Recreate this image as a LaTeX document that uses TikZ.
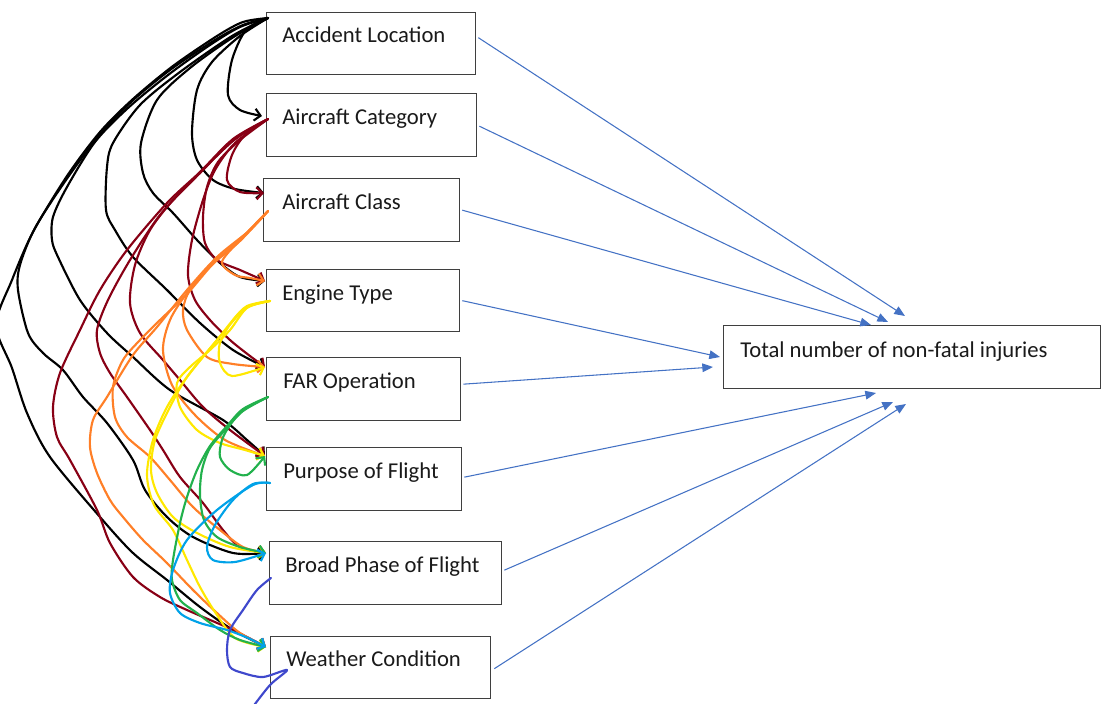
\documentclass[tikz,border=0pt]{standalone}
\usepackage{fontspec}
\setmainfont{Carlito}
\usetikzlibrary{arrows.meta}
\definecolor{bxline}{HTML}{3F3F3F}
\definecolor{txt}{HTML}{1A1A1A}
\definecolor{arrblue}{HTML}{4472C4}
\definecolor{cmaroon}{HTML}{880015}
\definecolor{corange}{HTML}{FF7F27}
\definecolor{cyellow}{HTML}{FFE800}
\definecolor{cgreen}{HTML}{22B14C}
\definecolor{ccyan}{HTML}{00A2E8}
\definecolor{cindigo}{HTML}{3F48CC}
\tikzset{
  box/.style={draw=bxline, line width=1pt, fill=white, inner sep=0pt, anchor=north west},
  lbl/.style={text=txt, inner sep=0pt, anchor=base west, font=\fontsize{17}{20}\selectfont},
  arr/.style={draw=arrblue, line width=0.8pt, -{Triangle[length=8pt,width=6.5pt]}},
  hand/.style={line width=1.6pt, line cap=round, line join=round},
  handarr/.style={hand, -{Straight Barb[length=4.5pt,width=9pt]}},
}
\begin{document}
\begin{tikzpicture}[x=0.75pt,y=-0.75pt]
\useasboundingbox (0,0) rectangle (1101,704);
\clip (0,0) rectangle (1101,704);
% boxes
\node[box, minimum width=156.75pt, minimum height=46.5pt] (a1) at (266,12) {};
\node[box, minimum width=157.5pt, minimum height=47.25pt] (a2) at (266,93) {};
\node[box, minimum width=147pt, minimum height=47.25pt] (a3) at (263,178) {};
\node[box, minimum width=144.75pt, minimum height=46.5pt] (a4) at (266,269) {};
\node[box, minimum width=145.5pt, minimum height=47.25pt] (a5) at (266,357) {};
\node[box, minimum width=146.25pt, minimum height=47.25pt] (a6) at (266,447) {};
\node[box, minimum width=174pt, minimum height=47.25pt] (a7) at (269,541) {};
\node[box, minimum width=165pt, minimum height=46.5pt] (a8) at (270,636) {};
\node[box, minimum width=283pt, minimum height=47.25pt] (tot) at (723,325) {};
% labels
\node[lbl] (t1) at (282,42) {Accident Location};
\node[lbl] (t2) at (282,124) {Aircraft Category};
\node[lbl] (t3) at (282,209) {Aircraft Class};
\node[lbl] (t4) at (282,300) {Engine Type};
\node[lbl] (t5) at (283,388) {FAR Operation};
\node[lbl] (t6) at (283,478) {Purpose of Flight};
\node[lbl] (t7) at (285,572) {Broad Phase of Flight};
\node[lbl] (t8) at (286,666) {Weather Condition};
\node[lbl] (t9) at (740,357) {Total number of non-fatal injuries};
% blue arrow ends
\coordinate (e1) at (905,316);
\coordinate (e2) at (888,322);
\coordinate (e3) at (871,325);
\coordinate (e4) at (720,357);
\coordinate (e5) at (713,367);
\coordinate (e6) at (876,393);
\coordinate (e7) at (893,402);
\coordinate (e8) at (906,404);
\draw[arr] ([shift={(2,-6)}]a1.east) -- (e1);
\draw[arr] ([shift={(2,1)}]a2.east) -- (e2);
\draw[arr] ([shift={(2,0)}]a3.east) -- (e3);
\draw[arr] ([shift={(2,0)}]a4.east) -- (e4);
\draw[arr] ([shift={(2,-5)}]a5.east) -- (e5);
\draw[arr] ([shift={(2,-2)}]a6.east) -- (e6);
\draw[arr] ([shift={(2,-3)}]a7.east) -- (e7);
\draw[arr] ([shift={(3,1)}]a8.east) -- (e8);
% hand-drawn sources and destinations
\coordinate (s1) at (268,18);
\coordinate (s2) at (268,119);
\coordinate (s3) at (268,211);
\coordinate (s4) at (270,301);
\coordinate (s5) at (268,397);
\coordinate (s6) at (270,483);
\coordinate (s7) at (271,578);
\coordinate (dCat) at (262,116);
\coordinate (dCls) at (264,193);
\coordinate (dEng) at (265,281);
\coordinate (dFAR) at (265,367);
\coordinate (dPur) at (265,456);
\coordinate (dBro) at (266,553);
\coordinate (dWea) at (266,647);
\coordinate (p7) at (252,708);
% black
\begin{scope}[draw=black]
\draw[handarr] plot[smooth] coordinates {(s1) (246,30) (232,60) (228,95) (240,110) (dCat)};
\draw[handarr] plot[smooth] coordinates {(s1) (240,36) (212,62) (197,90) (192,133) (197,160) (213,180) (235,189) (dCls)};
\draw[handarr] plot[smooth] coordinates {(s1) (232,38) (190,68) (157,100) (141,143) (143,173) (153,193) (173,213) (197,240) (220,263) (240,277) (dEng)};
\draw[handarr] plot[smooth] coordinates {(s1) (232,36) (180,72) (140,105) (113,143) (107,167) (106,210) (115,230) (133,257) (167,290) (200,323) (233,350) (dFAR)};
\draw[handarr] plot[smooth] coordinates {(s1) (240,27) (210,45) (168,75) (128,108) (95,142) (67,187) (53,217) (52,240) (58,257) (80,300) (107,333) (133,357) (170,390) (223,420) (247,440) (dPur)};
\draw[handarr] plot[smooth] coordinates {(s1) (243,25) (215,40) (170,70) (130,103) (98,137) (66,180) (35,228) (20,265) (18,290) (28,333) (43,353) (63,370) (83,397) (107,423) (133,460) (145,490) (167,517) (193,537) (233,553) (dBro)};
\draw[handarr] plot[smooth] coordinates {(s1) (243,22) (217,36) (173,66) (133,99) (100,132) (67,176) (33,232) (12,280) (-4,325) (12,368) (27,413) (50,457) (100,517) (133,553) (167,580) (200,607) (233,630) (dWea)};
\end{scope}
% maroon
\begin{scope}[draw=cmaroon]
\draw[handarr] plot[smooth] coordinates {(s2) (245,135) (232,155) (227,180) (240,192) (dCls)};
\draw[handarr] plot[smooth] coordinates {(s2) (240,140) (218,162) (207,187) (203,217) (205,243) (217,260) (240,270) (dEng)};
\draw[handarr] plot[smooth] coordinates {(s2) (235,143) (215,170) (203,200) (192,240) (188,275) (195,300) (210,320) (230,340) (250,356) (dFAR)};
\draw[handarr] plot[smooth] coordinates {(s2) (233,140) (200,173) (173,200) (150,230) (135,265) (130,303) (140,333) (163,360) (180,380) (203,407) (230,430) (dPur)};
\draw[handarr] plot[smooth] coordinates {(s2) (233,141) (195,178) (160,215) (130,260) (108,300) (97,330) (100,353) (110,373) (127,397) (150,430) (163,450) (180,477) (203,503) (223,530) (240,547) (dBro)};
\draw[handarr] plot[smooth] coordinates {(s2) (233,139) (200,172) (167,203) (127,250) (100,290) (80,330) (60,373) (53,407) (57,437) (70,460) (97,510) (110,543) (133,577) (160,597) (187,610) (233,630) (dWea)};
\end{scope}
% orange
\begin{scope}[draw=corange]
\draw[handarr] plot[smooth] coordinates {(s3) (240,240) (222,262) (235,275) (250,278) (dEng)};
\draw[handarr] plot[smooth] coordinates {(s3) (241,239) (213,263) (190,290) (183,310) (187,330) (207,357) (233,364) (dFAR)};
\draw[handarr] plot[smooth] coordinates {(s3) (239,241) (212,264) (187,293) (170,320) (163,350) (172,385) (195,415) (225,440) (dPur)};
\draw[handarr] plot[smooth] coordinates {(s3) (240,241) (213,264) (187,294) (160,320) (140,340) (123,360) (113,387) (115,417) (127,437) (150,457) (170,480) (193,507) (220,530) (243,547) (dBro)};
\draw[handarr] plot[smooth] coordinates {(s3) (250,230) (217,257) (187,290) (157,327) (133,355) (107,397) (93,420) (90,447) (97,473) (110,500) (123,517) (143,540) (167,563) (193,590) (217,613) (240,633) (dWea)};
\end{scope}
% yellow
\begin{scope}[draw=cyellow]
\draw[handarr] plot[smooth] coordinates {(s4) (247,307) (233,320) (220,343) (220,363) (232,376) (dFAR)};
\draw[handarr] plot[smooth] coordinates {(s4) (247,308) (230,330) (210,350) (190,367) (177,383) (180,407) (197,430) (220,443) (245,450) (dPur)};
\draw[handarr] plot[smooth] coordinates {(s4) (246,308) (217,340) (187,377) (170,407) (155,440) (151,470) (157,493) (173,517) (197,533) (230,547) (dBro)};
\draw[handarr] plot[smooth] coordinates {(s4) (247,306) (233,320) (217,340) (187,377) (167,407) (153,440) (147,475) (154,505) (173,530) (187,560) (200,587) (215,612) (235,638) (dWea)};
\end{scope}
% green
\begin{scope}[draw=cgreen]
\draw[handarr] plot[smooth] coordinates {(s5) (243,410) (230,425) (222,440) (220,457) (230,470) (247,475) (dPur)};
\draw[handarr] plot[smooth] coordinates {(s5) (243,411) (227,428) (210,448) (202,470) (200,495) (204,520) (217,537) (240,547) (dBro)};
\draw[handarr] plot[smooth] coordinates {(s5) (243,409) (227,426) (210,446) (197,470) (187,497) (180,523) (173,560) (172,580) (180,600) (197,613) (220,630) (240,640) (dWea)};
\end{scope}
% cyan
\begin{scope}[draw=ccyan]
\draw[handarr] plot[smooth] coordinates {(s6) (253,484) (233,500) (215,525) (207,547) (213,560) (235,562) (dBro)};
\draw[handarr] plot[smooth] coordinates {(s6) (253,485) (217,510) (187,540) (173,570) (170,593) (180,613) (200,623) (227,630) (248,638) (dWea)};
\end{scope}
% indigo
\draw[hand, draw=cindigo] plot[smooth] coordinates {(s7) (257,590) (243,610) (230,630) (227,650) (230,667) (243,673) (263,677) (287,670) (270,685) (p7)};
\end{tikzpicture}
\end{document}
